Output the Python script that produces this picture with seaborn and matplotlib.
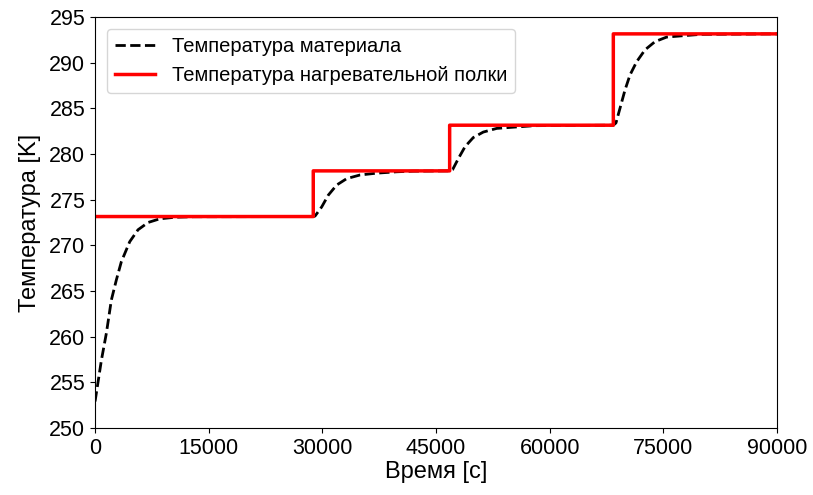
import numpy as np
import pandas as pd
import matplotlib
matplotlib.use("Agg")
import matplotlib.pyplot as plt
import seaborn as sns

# Heating shelf temperature (step profile)
shelf_time = [0, 28800, 46800, 68400, 90000]
shelf_temp = [273.15, 278.15, 283.15, 293.15, 293.15]

# Material temperature
mat_time = [0, 40, 835, 1500, 2150, 2810, 3470, 4580, 5670, 7000, 8540, 10520, 13000,
            28800, 29030, 29910, 30790, 31890, 33210, 34970, 37170, 39810, 42000,
            46800, 47200, 47950, 48830, 49920, 51240, 53010, 55650, 58000,
            68400, 68750, 69280, 69940, 70600, 71480, 72580, 73900, 75440, 77630, 80000, 90000]
mat_temp = [252.9, 253.1, 257.4, 260.4, 264.0, 266.2, 268.2, 270.4, 271.7, 272.5, 272.9, 273.07, 273.13,
            273.15, 273.2, 274.2, 275.5, 276.6, 277.3, 277.7, 277.9, 278.05, 278.12,
            278.15, 278.3, 279.5, 280.8, 281.8, 282.4, 282.8, 282.96, 283.1,
            283.15, 283.4, 285.0, 287.0, 288.65, 290.1, 291.4, 292.3, 292.8, 292.95, 293.1, 293.15]

plt.rcParams['font.family'] = ['Liberation Sans', 'DejaVu Sans']

fig = plt.figure(figsize=(8.13, 4.95), dpi=100)
ax = fig.add_axes([0.1169, 0.1354, 0.8388, 0.8303])

mat_df = pd.DataFrame({'t': mat_time, 'T': mat_temp})
shelf_df = pd.DataFrame({'t': shelf_time, 'T': shelf_temp})

sns.lineplot(data=mat_df, x='t', y='T', ax=ax, color='black', linestyle='--',
             linewidth=2, sort=False, label='Температура материала')
sns.lineplot(data=shelf_df, x='t', y='T', ax=ax, color='red', linewidth=2.5,
             drawstyle='steps-post', sort=False, snap=False,
             label='Температура нагревательной полки')

ax.set_xlim(0, 90000)
ax.set_ylim(250, 295)
ax.set_xticks(np.arange(0, 90001, 15000))
ax.set_yticks(np.arange(250, 296, 5))
ax.tick_params(labelsize=15.5)
ax.set_xlabel('Время [с]', fontsize=17, labelpad=2)
ax.set_ylabel('Температура [K]', fontsize=17, labelpad=6)
ax.legend(loc='upper left', fontsize=14.5, borderaxespad=0.6)

fig.savefig('out.png', dpi=100)
